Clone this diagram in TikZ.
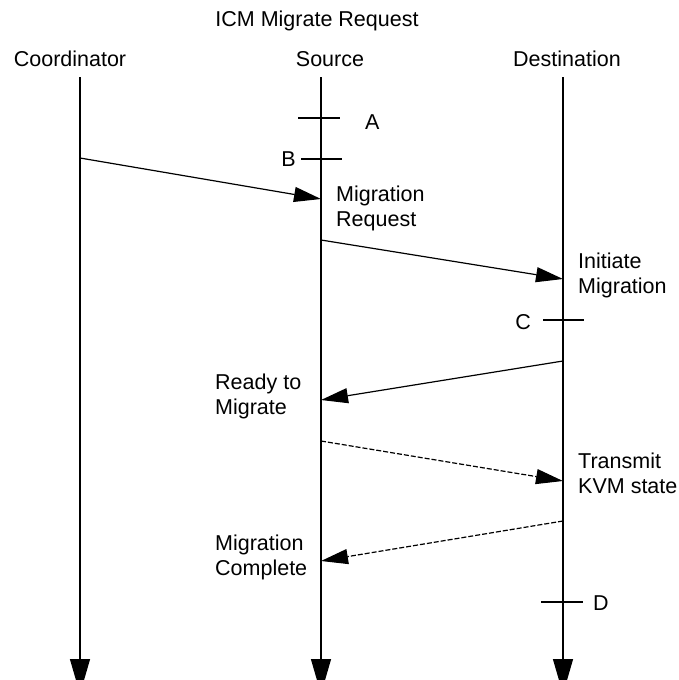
\documentclass[tikz,border=0pt]{standalone}
\usepackage{fontspec}
\setmainfont{Liberation Sans}
\usetikzlibrary{arrows.meta}

\begin{document}
\begin{tikzpicture}[x=1pt,y=-1pt,
  every node/.style={font=\fontsize{21.5}{25}\selectfont,inner sep=0pt},
  lifeline/.style={line width=1.2pt,-{Triangle[length=35pt,width=20pt]}},
  msg/.style={line width=1.2pt,-{Triangle[length=27pt,width=15pt]}},
  msgdash/.style={msg,dash pattern=on 5pt off 2pt},
  tickmark/.style={line width=1.2pt},
  lbl/.style={align=left,anchor=north west}]

\useasboundingbox (0,0) rectangle (678,680);

% ===== title and participants =====
\node[anchor=base] (title) at (317,27) {ICM Migrate Request};
\node[anchor=base] (coord) at (70,66) {Coordinator};
\node[anchor=base] (src) at (330,66) {Source};
\node[anchor=base] (dst) at (567,66) {Destination};

% ===== lifelines =====
\foreach \n/\x in {coord/80,src/321,dst/563}{
  \coordinate (\n-top) at (\x,77);
  \coordinate (\n-end) at (\x,694);
  \draw[lifeline] (\n-top) -- (\n-end);}

% ===== event ticks =====
\foreach \t/\xa/\xb/\y in {A/298/340/118,B/301/342/159,C/543/584/320,D/541/583/602}{
  \coordinate (t\t-l) at (\xa,\y);
  \coordinate (t\t-r) at (\xb,\y);
  \draw[tickmark] (t\t-l) -- (t\t-r);}
\node[anchor=base west] (lA) at (365,129) {A};
\node[anchor=base east] (lB) at (296,166) {B};
\node[anchor=base east] (lC) at (531,329) {C};
\node[anchor=base west] (lD) at (593,610) {D};

% ===== messages =====
\coordinate (m1a) at (80,158);  \coordinate (m1b) at (321,199);
\coordinate (m2a) at (321,240); \coordinate (m2b) at (563,279);
\coordinate (m3a) at (563,361); \coordinate (m3b) at (321,400);
\coordinate (m4a) at (321,441); \coordinate (m4b) at (563,481);
\coordinate (m5a) at (563,521); \coordinate (m5b) at (321,561);
\draw[msg] (m1a) -- (m1b);
\draw[msg] (m2a) -- (m2b);
\draw[msg] (m3a) -- (m3b);
\draw[msgdash] (m4a) -- (m4b);
\draw[msgdash] (m5a) -- (m5b);

% labels
\node[lbl] (req) at (336,186) {Migration\\Request};
\node[lbl] (init) at (578,253) {Initiate\\Migration};
\node[lbl] (ready) at (215,374) {Ready to\\Migrate};
\node[lbl] (kvm) at (578,453) {Transmit\\KVM state};
\node[lbl] (done) at (215,535) {Migration\\Complete};
\end{tikzpicture}
\end{document}
